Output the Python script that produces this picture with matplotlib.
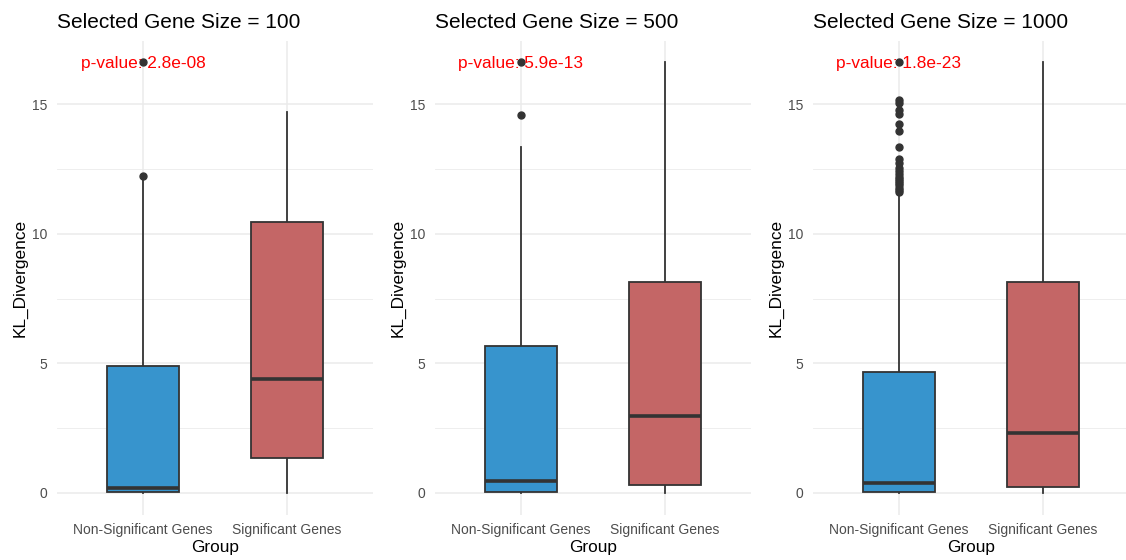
import matplotlib
matplotlib.use("Agg")
import matplotlib.pyplot as plt

plt.rcParams['font.family'] = ['Liberation Sans', 'DejaVu Sans']

# data
groups = ["Non-Significant Genes", "Significant Genes"]
gene_sizes = [100, 500, 1000]
p_values = ["2.8e-08", "5.9e-13", "1.8e-23"]

# non-significant genes, one value per panel
ns_q1 = [0.05, 0.05, 0.05]
ns_med = [0.20, 0.47, 0.39]
ns_q3 = [4.90, 5.67, 4.67]
ns_lo = [0.0, 0.0, 0.0]
ns_hi = [12.10, 13.34, 11.55]
ns_fliers = [
    [12.22, 16.62],
    [14.59, 16.62],
    [11.62, 11.70, 11.78, 11.86, 11.94, 12.02, 12.10, 12.20, 12.30, 12.40,
     12.53, 12.73, 12.88, 13.34, 13.96, 14.23, 14.62, 14.77, 15.04, 15.16, 16.62],
]

# significant genes
sig_q1 = [1.35, 0.30, 0.23]
sig_med = [4.40, 2.98, 2.31]
sig_q3 = [10.45, 8.14, 8.14]
sig_lo = [0.0, 0.0, 0.0]
sig_hi = [14.69, 16.62, 16.62]
sig_fliers = [[], [], []]

colors = ['#3794CD', '#C46666']
edge = '#333333'

W, H = 1126, 560
fig = plt.figure(figsize=(W / 100, H / 100), dpi=100)

panel_left = [56.6, 434.6, 812.6]
panel_w = 316.8
panel_top = 40.5
panel_bottom = 514.5

for i in range(3):
    ax = fig.add_axes([panel_left[i] / W, (H - panel_bottom) / H,
                       panel_w / W, (panel_bottom - panel_top) / H])
    stats = [
        dict(med=ns_med[i], q1=ns_q1[i], q3=ns_q3[i], whislo=ns_lo[i],
             whishi=ns_hi[i], fliers=ns_fliers[i]),
        dict(med=sig_med[i], q1=sig_q1[i], q3=sig_q3[i], whislo=sig_lo[i],
             whishi=sig_hi[i], fliers=sig_fliers[i]),
    ]
    bp = ax.bxp(stats, positions=[1, 2], widths=0.5, patch_artist=True,
                showcaps=False,
                boxprops=dict(edgecolor=edge, linewidth=1.3),
                whiskerprops=dict(color=edge, linewidth=1.3),
                medianprops=dict(color=edge, linewidth=2.6),
                flierprops=dict(marker='o', markerfacecolor=edge,
                                markeredgecolor=edge, markersize=5))
    for patch, c in zip(bp['boxes'], colors):
        patch.set_facecolor(c)
    for b in bp['boxes']:
        b.set_zorder(3)
    for m in bp['medians']:
        m.set_zorder(4)

    ymax = max(ns_fliers[i] + [ns_hi[i], sig_hi[i]] + sig_fliers[i])
    ax.set_xlim(0.4, 2.6)
    ax.set_ylim(-0.83, 17.45)
    ax.set_yticks([0, 5, 10, 15])
    ax.set_yticks([2.5, 7.5, 12.5], minor=True)
    ax.set_xticks([1, 2])
    ax.set_xticklabels(groups)

    ax.grid(True, which='major', color='#EBEBEB', linewidth=1.1, zorder=0)
    ax.grid(True, which='minor', axis='y', color='#EBEBEB', linewidth=0.6, zorder=0)
    ax.set_axisbelow(True)
    for s in ax.spines.values():
        s.set_visible(False)
    ax.tick_params(which='both', length=0)
    ax.tick_params(axis='y', pad=7, labelsize=10, labelcolor='#4D4D4D')
    ax.tick_params(axis='x', pad=6, labelsize=10, labelcolor='#4D4D4D')

    ax.set_ylabel("KL_Divergence", fontsize=12.4)
    ax.yaxis.set_label_coords(-0.09, 0.5)
    ax.set_xlabel("Group", fontsize=12.4)
    ax.xaxis.set_label_coords(0.5, -0.053)
    ax.set_title(f"Selected Gene Size = {gene_sizes[i]}", loc='left',
                 fontsize=15, pad=9)

    ax.text(1, ymax - 0.05, f"p-value: {p_values[i]}", color='red', fontsize=12.4,
            ha='center', va='center', zorder=5)

fig.savefig("out.png", dpi=100)
